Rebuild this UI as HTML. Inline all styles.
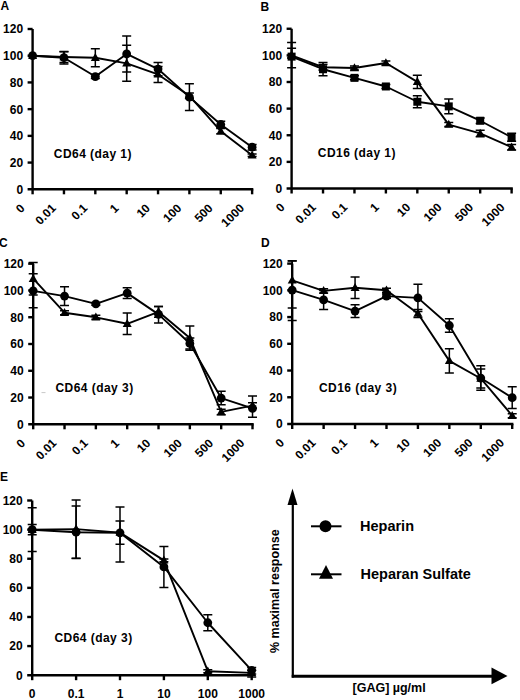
<!DOCTYPE html>
<html><head><meta charset="utf-8"><style>
html,body{margin:0;padding:0;background:#fff;}
svg{display:block;}
text{font-family:"Liberation Sans", sans-serif;fill:#000;}
</style></head><body>
<svg width="520" height="700" viewBox="0 0 520 700">
<rect width="520" height="700" fill="#fff"/>
<path d="M32.6 29V194.3" stroke="#000" stroke-width="2.4" fill="none"/>
<path d="M27.6 189.3H253.32" stroke="#000" stroke-width="2.4" fill="none"/>
<path d="M27.6 162.58H32.6" stroke="#000" stroke-width="2.4"/>
<text x="23.1" y="166.98" text-anchor="end" font-size="12" font-weight="bold">20</text>
<path d="M27.6 135.87H32.6" stroke="#000" stroke-width="2.4"/>
<text x="23.1" y="140.27" text-anchor="end" font-size="12" font-weight="bold">40</text>
<path d="M27.6 109.15H32.6" stroke="#000" stroke-width="2.4"/>
<text x="23.1" y="113.55" text-anchor="end" font-size="12" font-weight="bold">60</text>
<path d="M27.6 82.43H32.6" stroke="#000" stroke-width="2.4"/>
<text x="23.1" y="86.83" text-anchor="end" font-size="12" font-weight="bold">80</text>
<path d="M27.6 55.72H32.6" stroke="#000" stroke-width="2.4"/>
<text x="23.1" y="60.12" text-anchor="end" font-size="12" font-weight="bold">100</text>
<path d="M27.6 29H32.6" stroke="#000" stroke-width="2.4"/>
<text x="23.1" y="33.4" text-anchor="end" font-size="12" font-weight="bold">120</text>
<text x="23.1" y="193.7" text-anchor="end" font-size="12" font-weight="bold">0</text>
<path d="M63.96 189.3V194.3" stroke="#000" stroke-width="2.4"/>
<path d="M95.32 189.3V194.3" stroke="#000" stroke-width="2.4"/>
<path d="M126.68 189.3V194.3" stroke="#000" stroke-width="2.4"/>
<path d="M158.04 189.3V194.3" stroke="#000" stroke-width="2.4"/>
<path d="M189.4 189.3V194.3" stroke="#000" stroke-width="2.4"/>
<path d="M220.76 189.3V194.3" stroke="#000" stroke-width="2.4"/>
<path d="M252.12 189.3V194.3" stroke="#000" stroke-width="2.4"/>
<text transform="translate(25.4 208.9) rotate(-45)" text-anchor="end" font-size="12" font-weight="bold">0</text>
<text transform="translate(56.76 208.9) rotate(-45)" text-anchor="end" font-size="12" font-weight="bold">0.01</text>
<text transform="translate(88.12 208.9) rotate(-45)" text-anchor="end" font-size="12" font-weight="bold">0.1</text>
<text transform="translate(119.48 208.9) rotate(-45)" text-anchor="end" font-size="12" font-weight="bold">1</text>
<text transform="translate(150.84 208.9) rotate(-45)" text-anchor="end" font-size="12" font-weight="bold">10</text>
<text transform="translate(182.2 208.9) rotate(-45)" text-anchor="end" font-size="12" font-weight="bold">100</text>
<text transform="translate(213.56 208.9) rotate(-45)" text-anchor="end" font-size="12" font-weight="bold">500</text>
<text transform="translate(244.92 208.9) rotate(-45)" text-anchor="end" font-size="12" font-weight="bold">1000</text>
<text x="53.8" y="158.2" font-size="12" font-weight="bold" letter-spacing="0.45">CD64 (day 1)</text>
<text x="0.6" y="10" font-size="12" font-weight="bold">A</text>
<polyline points="32.6,55.72 63.96,57.72 95.32,76.56 126.68,53.98 158.04,69.08 189.4,97.13 220.76,124.51 252.12,147.22" fill="none" stroke="#000" stroke-width="1.9" stroke-linejoin="round"/>
<path d="M63.96 51.44V64M59.46 51.44h9M59.46 64h9" stroke="#000" stroke-width="1.5" fill="none"/>
<path d="M95.32 74.55V78.56M90.82 74.55h9M90.82 78.56h9" stroke="#000" stroke-width="1.5" fill="none"/>
<path d="M126.68 35.95V72.01M122.18 35.95h9M122.18 72.01h9" stroke="#000" stroke-width="1.5" fill="none"/>
<path d="M158.04 62.4V75.75M153.54 62.4h9M153.54 75.75h9" stroke="#000" stroke-width="1.5" fill="none"/>
<path d="M189.4 83.77V110.49M184.9 83.77h9M184.9 110.49h9" stroke="#000" stroke-width="1.5" fill="none"/>
<path d="M220.76 121.17V127.85M216.26 121.17h9M216.26 127.85h9" stroke="#000" stroke-width="1.5" fill="none"/>
<path d="M252.12 144.55V149.89M247.62 144.55h9M247.62 149.89h9" stroke="#000" stroke-width="1.5" fill="none"/>
<circle cx="32.6" cy="55.72" r="4.4"/>
<circle cx="63.96" cy="57.72" r="4.4"/>
<circle cx="95.32" cy="76.56" r="4.4"/>
<circle cx="126.68" cy="53.98" r="4.4"/>
<circle cx="158.04" cy="69.08" r="4.4"/>
<circle cx="189.4" cy="97.13" r="4.4"/>
<circle cx="220.76" cy="124.51" r="4.4"/>
<circle cx="252.12" cy="147.22" r="4.4"/>
<polyline points="32.6,55.72 63.96,57.05 95.32,57.72 126.68,63.33 158.04,74.42 189.4,95.79 220.76,131.19 252.12,155.24" fill="none" stroke="#000" stroke-width="1.9" stroke-linejoin="round"/>
<path d="M63.96 51.71V62.4M59.46 51.71h9M59.46 62.4h9" stroke="#000" stroke-width="1.5" fill="none"/>
<path d="M95.32 48.77V66.67M90.82 48.77h9M90.82 66.67h9" stroke="#000" stroke-width="1.5" fill="none"/>
<path d="M126.68 45.3V81.36M122.18 45.3h9M122.18 81.36h9" stroke="#000" stroke-width="1.5" fill="none"/>
<path d="M158.04 66.4V82.43M153.54 66.4h9M153.54 82.43h9" stroke="#000" stroke-width="1.5" fill="none"/>
<path d="M189.4 93.12V98.46M184.9 93.12h9M184.9 98.46h9" stroke="#000" stroke-width="1.5" fill="none"/>
<path d="M220.76 128.52V133.86M216.26 128.52h9M216.26 133.86h9" stroke="#000" stroke-width="1.5" fill="none"/>
<path d="M252.12 153.9V156.57M247.62 153.9h9M247.62 156.57h9" stroke="#000" stroke-width="1.5" fill="none"/>
<path d="M32.6 50.92l4.5 8h-9z"/>
<path d="M63.96 52.25l4.5 8h-9z"/>
<path d="M95.32 52.92l4.5 8h-9z"/>
<path d="M126.68 58.53l4.5 8h-9z"/>
<path d="M158.04 69.62l4.5 8h-9z"/>
<path d="M189.4 90.99l4.5 8h-9z"/>
<path d="M220.76 126.39l4.5 8h-9z"/>
<path d="M252.12 150.44l4.5 8h-9z"/>
<path d="M291.6 28.75V193.5" stroke="#000" stroke-width="2.4" fill="none"/>
<path d="M286.6 188.5H512.81" stroke="#000" stroke-width="2.4" fill="none"/>
<path d="M286.6 161.88H291.6" stroke="#000" stroke-width="2.4"/>
<text x="282.1" y="166.28" text-anchor="end" font-size="12" font-weight="bold">20</text>
<path d="M286.6 135.25H291.6" stroke="#000" stroke-width="2.4"/>
<text x="282.1" y="139.65" text-anchor="end" font-size="12" font-weight="bold">40</text>
<path d="M286.6 108.62H291.6" stroke="#000" stroke-width="2.4"/>
<text x="282.1" y="113.03" text-anchor="end" font-size="12" font-weight="bold">60</text>
<path d="M286.6 82H291.6" stroke="#000" stroke-width="2.4"/>
<text x="282.1" y="86.4" text-anchor="end" font-size="12" font-weight="bold">80</text>
<path d="M286.6 55.38H291.6" stroke="#000" stroke-width="2.4"/>
<text x="282.1" y="59.77" text-anchor="end" font-size="12" font-weight="bold">100</text>
<path d="M286.6 28.75H291.6" stroke="#000" stroke-width="2.4"/>
<text x="282.1" y="33.15" text-anchor="end" font-size="12" font-weight="bold">120</text>
<text x="282.1" y="192.9" text-anchor="end" font-size="12" font-weight="bold">0</text>
<path d="M323.03 188.5V193.5" stroke="#000" stroke-width="2.4"/>
<path d="M354.46 188.5V193.5" stroke="#000" stroke-width="2.4"/>
<path d="M385.89 188.5V193.5" stroke="#000" stroke-width="2.4"/>
<path d="M417.32 188.5V193.5" stroke="#000" stroke-width="2.4"/>
<path d="M448.75 188.5V193.5" stroke="#000" stroke-width="2.4"/>
<path d="M480.18 188.5V193.5" stroke="#000" stroke-width="2.4"/>
<path d="M511.61 188.5V193.5" stroke="#000" stroke-width="2.4"/>
<text transform="translate(285.4 208.1) rotate(-45)" text-anchor="end" font-size="12" font-weight="bold">0</text>
<text transform="translate(316.83 208.1) rotate(-45)" text-anchor="end" font-size="12" font-weight="bold">0.01</text>
<text transform="translate(348.26 208.1) rotate(-45)" text-anchor="end" font-size="12" font-weight="bold">0.1</text>
<text transform="translate(379.69 208.1) rotate(-45)" text-anchor="end" font-size="12" font-weight="bold">1</text>
<text transform="translate(411.12 208.1) rotate(-45)" text-anchor="end" font-size="12" font-weight="bold">10</text>
<text transform="translate(442.55 208.1) rotate(-45)" text-anchor="end" font-size="12" font-weight="bold">100</text>
<text transform="translate(473.98 208.1) rotate(-45)" text-anchor="end" font-size="12" font-weight="bold">500</text>
<text transform="translate(505.41 208.1) rotate(-45)" text-anchor="end" font-size="12" font-weight="bold">1000</text>
<text x="317.8" y="157.2" font-size="12" font-weight="bold" letter-spacing="0.45">CD16 (day 1)</text>
<text x="260.5" y="10.6" font-size="12" font-weight="bold">B</text>
<polyline points="291.6,56.63 323.03,69.23 354.46,77.86 385.89,86.48 417.32,101.75 448.75,106.39 480.18,120.72 511.61,137.31" fill="none" stroke="#000" stroke-width="1.9" stroke-linejoin="round"/>
<path d="M291.6 48.27V67.64M287.1 48.27h9M287.1 67.64h9" stroke="#000" stroke-width="1.5" fill="none"/>
<path d="M323.03 62.6V75.87M318.53 62.6h9M318.53 75.87h9" stroke="#000" stroke-width="1.5" fill="none"/>
<path d="M354.46 75.87V79.85M349.96 75.87h9M349.96 79.85h9" stroke="#000" stroke-width="1.5" fill="none"/>
<path d="M385.89 84.49V88.48M381.39 84.49h9M381.39 88.48h9" stroke="#000" stroke-width="1.5" fill="none"/>
<path d="M417.32 95.77V107.72M412.82 95.77h9M412.82 107.72h9" stroke="#000" stroke-width="1.5" fill="none"/>
<path d="M448.75 99.09V113.69M444.25 99.09h9M444.25 113.69h9" stroke="#000" stroke-width="1.5" fill="none"/>
<path d="M480.18 118.07V123.38M475.68 118.07h9M475.68 123.38h9" stroke="#000" stroke-width="1.5" fill="none"/>
<path d="M511.61 133.33V141.29M507.11 133.33h9M507.11 141.29h9" stroke="#000" stroke-width="1.5" fill="none"/>
<rect x="287.6" y="52.63" width="8" height="8"/>
<rect x="319.03" y="65.23" width="8" height="8"/>
<rect x="350.46" y="73.86" width="8" height="8"/>
<rect x="381.89" y="82.48" width="8" height="8"/>
<rect x="413.32" y="97.75" width="8" height="8"/>
<rect x="444.75" y="102.39" width="8" height="8"/>
<rect x="476.18" y="116.72" width="8" height="8"/>
<rect x="507.61" y="133.31" width="8" height="8"/>
<polyline points="291.6,55.3 323.03,67.24 354.46,68.04 385.89,63 417.32,81.84 448.75,124.57 480.18,133.46 511.61,147.26" fill="none" stroke="#000" stroke-width="1.9" stroke-linejoin="round"/>
<path d="M291.6 42.56V57.95M287.1 42.56h9M287.1 57.95h9" stroke="#000" stroke-width="1.5" fill="none"/>
<path d="M323.03 64.59V69.9M318.53 64.59h9M318.53 69.9h9" stroke="#000" stroke-width="1.5" fill="none"/>
<path d="M354.46 66.05V70.03M349.96 66.05h9M349.96 70.03h9" stroke="#000" stroke-width="1.5" fill="none"/>
<path d="M385.89 61.01V64.99M381.39 61.01h9M381.39 64.99h9" stroke="#000" stroke-width="1.5" fill="none"/>
<path d="M417.32 75.2V88.48M412.82 75.2h9M412.82 88.48h9" stroke="#000" stroke-width="1.5" fill="none"/>
<path d="M448.75 122.58V126.56M444.25 122.58h9M444.25 126.56h9" stroke="#000" stroke-width="1.5" fill="none"/>
<path d="M480.18 130.14V136.78M475.68 130.14h9M475.68 136.78h9" stroke="#000" stroke-width="1.5" fill="none"/>
<path d="M511.61 144.61V149.92M507.11 144.61h9M507.11 149.92h9" stroke="#000" stroke-width="1.5" fill="none"/>
<path d="M291.6 50.5l4.5 8h-9z"/>
<path d="M323.03 62.44l4.5 8h-9z"/>
<path d="M354.46 63.24l4.5 8h-9z"/>
<path d="M385.89 58.2l4.5 8h-9z"/>
<path d="M417.32 77.04l4.5 8h-9z"/>
<path d="M448.75 119.77l4.5 8h-9z"/>
<path d="M480.18 128.66l4.5 8h-9z"/>
<path d="M511.61 142.46l4.5 8h-9z"/>
<path d="M33.2 263.7V429.3" stroke="#000" stroke-width="2.4" fill="none"/>
<path d="M28.2 424.3H253.71" stroke="#000" stroke-width="2.4" fill="none"/>
<path d="M28.2 397.53H33.2" stroke="#000" stroke-width="2.4"/>
<text x="23.7" y="401.93" text-anchor="end" font-size="12" font-weight="bold">20</text>
<path d="M28.2 370.77H33.2" stroke="#000" stroke-width="2.4"/>
<text x="23.7" y="375.17" text-anchor="end" font-size="12" font-weight="bold">40</text>
<path d="M28.2 344H33.2" stroke="#000" stroke-width="2.4"/>
<text x="23.7" y="348.4" text-anchor="end" font-size="12" font-weight="bold">60</text>
<path d="M28.2 317.23H33.2" stroke="#000" stroke-width="2.4"/>
<text x="23.7" y="321.63" text-anchor="end" font-size="12" font-weight="bold">80</text>
<path d="M28.2 290.47H33.2" stroke="#000" stroke-width="2.4"/>
<text x="23.7" y="294.87" text-anchor="end" font-size="12" font-weight="bold">100</text>
<path d="M28.2 263.7H33.2" stroke="#000" stroke-width="2.4"/>
<text x="23.7" y="268.1" text-anchor="end" font-size="12" font-weight="bold">120</text>
<text x="23.7" y="428.7" text-anchor="end" font-size="12" font-weight="bold">0</text>
<path d="M64.53 424.3V429.3" stroke="#000" stroke-width="2.4"/>
<path d="M95.86 424.3V429.3" stroke="#000" stroke-width="2.4"/>
<path d="M127.19 424.3V429.3" stroke="#000" stroke-width="2.4"/>
<path d="M158.52 424.3V429.3" stroke="#000" stroke-width="2.4"/>
<path d="M189.85 424.3V429.3" stroke="#000" stroke-width="2.4"/>
<path d="M221.18 424.3V429.3" stroke="#000" stroke-width="2.4"/>
<path d="M252.51 424.3V429.3" stroke="#000" stroke-width="2.4"/>
<text transform="translate(26 443.9) rotate(-45)" text-anchor="end" font-size="12" font-weight="bold">0</text>
<text transform="translate(57.33 443.9) rotate(-45)" text-anchor="end" font-size="12" font-weight="bold">0.01</text>
<text transform="translate(88.66 443.9) rotate(-45)" text-anchor="end" font-size="12" font-weight="bold">0.1</text>
<text transform="translate(119.99 443.9) rotate(-45)" text-anchor="end" font-size="12" font-weight="bold">1</text>
<text transform="translate(151.32 443.9) rotate(-45)" text-anchor="end" font-size="12" font-weight="bold">10</text>
<text transform="translate(182.65 443.9) rotate(-45)" text-anchor="end" font-size="12" font-weight="bold">100</text>
<text transform="translate(213.98 443.9) rotate(-45)" text-anchor="end" font-size="12" font-weight="bold">500</text>
<text transform="translate(245.31 443.9) rotate(-45)" text-anchor="end" font-size="12" font-weight="bold">1000</text>
<text x="55.5" y="392.4" font-size="12" font-weight="bold" letter-spacing="0.45">CD64 (day 3)</text>
<text x="-0.9" y="247.3" font-size="12" font-weight="bold">C</text>
<polyline points="33.2,290.85 64.53,296.12 95.86,303.94 127.19,293.14 158.52,314.34 189.85,343.5 221.18,398.04 252.51,408.44" fill="none" stroke="#000" stroke-width="1.9" stroke-linejoin="round"/>
<path d="M33.2 273.84V307.86M28.7 273.84h9M28.7 307.86h9" stroke="#000" stroke-width="1.5" fill="none"/>
<path d="M64.53 286.66V305.56M60.03 286.66h9M60.03 305.56h9" stroke="#000" stroke-width="1.5" fill="none"/>
<path d="M95.86 302.6V305.3M91.36 302.6h9M91.36 305.3h9" stroke="#000" stroke-width="1.5" fill="none"/>
<path d="M127.19 287.75V298.55M122.69 287.75h9M122.69 298.55h9" stroke="#000" stroke-width="1.5" fill="none"/>
<path d="M158.52 306.51V323.12M154.02 306.51h9M154.02 323.12h9" stroke="#000" stroke-width="1.5" fill="none"/>
<path d="M189.85 338.1V348.9M185.35 338.1h9M185.35 348.9h9" stroke="#000" stroke-width="1.5" fill="none"/>
<path d="M221.18 391.29V404.79M216.68 391.29h9M216.68 404.79h9" stroke="#000" stroke-width="1.5" fill="none"/>
<path d="M252.51 395.88V417.35M248.01 395.88h9M248.01 417.35h9" stroke="#000" stroke-width="1.5" fill="none"/>
<circle cx="33.2" cy="290.85" r="4.4"/>
<circle cx="64.53" cy="296.12" r="4.4"/>
<circle cx="95.86" cy="303.94" r="4.4"/>
<circle cx="127.19" cy="293.14" r="4.4"/>
<circle cx="158.52" cy="314.34" r="4.4"/>
<circle cx="189.85" cy="343.5" r="4.4"/>
<circle cx="221.18" cy="398.04" r="4.4"/>
<circle cx="252.51" cy="408.44" r="4.4"/>
<polyline points="33.2,278.7 64.53,312.72 95.86,317.31 127.19,323.79 158.52,311.77 189.85,338.1 221.18,411.94 252.51,405.6" fill="none" stroke="#000" stroke-width="1.9" stroke-linejoin="round"/>
<path d="M33.2 262.5V294.9M28.7 262.5h9M28.7 294.9h9" stroke="#000" stroke-width="1.5" fill="none"/>
<path d="M64.53 310.69V314.75M60.03 310.69h9M60.03 314.75h9" stroke="#000" stroke-width="1.5" fill="none"/>
<path d="M95.86 315.28V319.33M91.36 315.28h9M91.36 319.33h9" stroke="#000" stroke-width="1.5" fill="none"/>
<path d="M127.19 312.99V334.59M122.69 312.99h9M122.69 334.59h9" stroke="#000" stroke-width="1.5" fill="none"/>
<path d="M158.52 306.38V317.18M154.02 306.38h9M154.02 317.18h9" stroke="#000" stroke-width="1.5" fill="none"/>
<path d="M189.85 325.95V350.25M185.35 325.95h9M185.35 350.25h9" stroke="#000" stroke-width="1.5" fill="none"/>
<path d="M221.18 409.25V414.64M216.68 409.25h9M216.68 414.64h9" stroke="#000" stroke-width="1.5" fill="none"/>
<path d="M252.51 402.76V408.3M248.01 402.76h9M248.01 408.3h9" stroke="#000" stroke-width="1.5" fill="none"/>
<path d="M33.2 273.9l4.5 8h-9z"/>
<path d="M64.53 307.92l4.5 8h-9z"/>
<path d="M95.86 312.51l4.5 8h-9z"/>
<path d="M127.19 318.99l4.5 8h-9z"/>
<path d="M158.52 306.97l4.5 8h-9z"/>
<path d="M189.85 333.3l4.5 8h-9z"/>
<path d="M221.18 407.14l4.5 8h-9z"/>
<path d="M252.51 400.8l4.5 8h-9z"/>
<path d="M292.2 263.6V429" stroke="#000" stroke-width="2.4" fill="none"/>
<path d="M287.2 424H513.41" stroke="#000" stroke-width="2.4" fill="none"/>
<path d="M287.2 397.27H292.2" stroke="#000" stroke-width="2.4"/>
<text x="282.7" y="401.67" text-anchor="end" font-size="12" font-weight="bold">20</text>
<path d="M287.2 370.53H292.2" stroke="#000" stroke-width="2.4"/>
<text x="282.7" y="374.93" text-anchor="end" font-size="12" font-weight="bold">40</text>
<path d="M287.2 343.8H292.2" stroke="#000" stroke-width="2.4"/>
<text x="282.7" y="348.2" text-anchor="end" font-size="12" font-weight="bold">60</text>
<path d="M287.2 317.07H292.2" stroke="#000" stroke-width="2.4"/>
<text x="282.7" y="321.47" text-anchor="end" font-size="12" font-weight="bold">80</text>
<path d="M287.2 290.33H292.2" stroke="#000" stroke-width="2.4"/>
<text x="282.7" y="294.73" text-anchor="end" font-size="12" font-weight="bold">100</text>
<path d="M287.2 263.6H292.2" stroke="#000" stroke-width="2.4"/>
<text x="282.7" y="268" text-anchor="end" font-size="12" font-weight="bold">120</text>
<text x="282.7" y="428.4" text-anchor="end" font-size="12" font-weight="bold">0</text>
<path d="M323.63 424V429" stroke="#000" stroke-width="2.4"/>
<path d="M355.06 424V429" stroke="#000" stroke-width="2.4"/>
<path d="M386.49 424V429" stroke="#000" stroke-width="2.4"/>
<path d="M417.92 424V429" stroke="#000" stroke-width="2.4"/>
<path d="M449.35 424V429" stroke="#000" stroke-width="2.4"/>
<path d="M480.78 424V429" stroke="#000" stroke-width="2.4"/>
<path d="M512.21 424V429" stroke="#000" stroke-width="2.4"/>
<text transform="translate(285 443.6) rotate(-45)" text-anchor="end" font-size="12" font-weight="bold">0</text>
<text transform="translate(316.43 443.6) rotate(-45)" text-anchor="end" font-size="12" font-weight="bold">0.01</text>
<text transform="translate(347.86 443.6) rotate(-45)" text-anchor="end" font-size="12" font-weight="bold">0.1</text>
<text transform="translate(379.29 443.6) rotate(-45)" text-anchor="end" font-size="12" font-weight="bold">1</text>
<text transform="translate(410.72 443.6) rotate(-45)" text-anchor="end" font-size="12" font-weight="bold">10</text>
<text transform="translate(442.15 443.6) rotate(-45)" text-anchor="end" font-size="12" font-weight="bold">100</text>
<text transform="translate(473.58 443.6) rotate(-45)" text-anchor="end" font-size="12" font-weight="bold">500</text>
<text transform="translate(505.01 443.6) rotate(-45)" text-anchor="end" font-size="12" font-weight="bold">1000</text>
<text x="319" y="392.4" font-size="12" font-weight="bold" letter-spacing="0.45">CD16 (day 3)</text>
<text x="260.9" y="246.9" font-size="12" font-weight="bold">D</text>
<polyline points="292.2,290.05 323.63,299.93 355.06,311.03 386.49,296.14 417.92,297.9 449.35,325.52 480.78,378.06 512.21,397.69" fill="none" stroke="#000" stroke-width="1.9" stroke-linejoin="round"/>
<path d="M292.2 260.94V320.51M287.7 260.94h9M287.7 320.51h9" stroke="#000" stroke-width="1.5" fill="none"/>
<path d="M323.63 290.45V309.41M319.13 290.45h9M319.13 309.41h9" stroke="#000" stroke-width="1.5" fill="none"/>
<path d="M355.06 304.67V317.4M350.56 304.67h9M350.56 317.4h9" stroke="#000" stroke-width="1.5" fill="none"/>
<path d="M386.49 294.11V298.17M381.99 294.11h9M381.99 298.17h9" stroke="#000" stroke-width="1.5" fill="none"/>
<path d="M417.92 284.36V311.44M413.42 284.36h9M413.42 311.44h9" stroke="#000" stroke-width="1.5" fill="none"/>
<path d="M449.35 318.75V332.29M444.85 318.75h9M444.85 332.29h9" stroke="#000" stroke-width="1.5" fill="none"/>
<path d="M480.78 365.87V390.24M476.28 365.87h9M476.28 390.24h9" stroke="#000" stroke-width="1.5" fill="none"/>
<path d="M512.21 386.86V408.52M507.71 386.86h9M507.71 408.52h9" stroke="#000" stroke-width="1.5" fill="none"/>
<circle cx="292.2" cy="290.05" r="4.4"/>
<circle cx="323.63" cy="299.93" r="4.4"/>
<circle cx="355.06" cy="311.03" r="4.4"/>
<circle cx="386.49" cy="296.14" r="4.4"/>
<circle cx="417.92" cy="297.9" r="4.4"/>
<circle cx="449.35" cy="325.52" r="4.4"/>
<circle cx="480.78" cy="378.06" r="4.4"/>
<circle cx="512.21" cy="397.69" r="4.4"/>
<polyline points="292.2,280.3 323.63,290.86 355.06,287.75 386.49,290.32 417.92,313.47 449.35,360.86 480.78,378.46 512.21,415.7" fill="none" stroke="#000" stroke-width="1.9" stroke-linejoin="round"/>
<path d="M292.2 260.67V308.06M287.7 260.67h9M287.7 308.06h9" stroke="#000" stroke-width="1.5" fill="none"/>
<path d="M323.63 288.83V292.89M319.13 288.83h9M319.13 292.89h9" stroke="#000" stroke-width="1.5" fill="none"/>
<path d="M355.06 276.91V298.58M350.56 276.91h9M350.56 298.58h9" stroke="#000" stroke-width="1.5" fill="none"/>
<path d="M386.49 288.29V292.35M381.99 288.29h9M381.99 292.35h9" stroke="#000" stroke-width="1.5" fill="none"/>
<path d="M417.92 309.41V317.53M413.42 309.41h9M413.42 317.53h9" stroke="#000" stroke-width="1.5" fill="none"/>
<path d="M449.35 348.68V373.05M444.85 348.68h9M444.85 373.05h9" stroke="#000" stroke-width="1.5" fill="none"/>
<path d="M480.78 368.99V387.94M476.28 368.99h9M476.28 387.94h9" stroke="#000" stroke-width="1.5" fill="none"/>
<path d="M512.21 413.67V417.73M507.71 413.67h9M507.71 417.73h9" stroke="#000" stroke-width="1.5" fill="none"/>
<path d="M292.2 275.5l4.5 8h-9z"/>
<path d="M323.63 286.06l4.5 8h-9z"/>
<path d="M355.06 282.95l4.5 8h-9z"/>
<path d="M386.49 285.52l4.5 8h-9z"/>
<path d="M417.92 308.67l4.5 8h-9z"/>
<path d="M449.35 356.06l4.5 8h-9z"/>
<path d="M480.78 373.66l4.5 8h-9z"/>
<path d="M512.21 410.9l4.5 8h-9z"/>
<path d="M32.2 500.5V680.2" stroke="#000" stroke-width="2.4" fill="none"/>
<path d="M27.2 675.2H252.9" stroke="#000" stroke-width="2.4" fill="none"/>
<path d="M27.2 646.08H32.2" stroke="#000" stroke-width="2.4"/>
<text x="22.7" y="650.48" text-anchor="end" font-size="12" font-weight="bold">20</text>
<path d="M27.2 616.97H32.2" stroke="#000" stroke-width="2.4"/>
<text x="22.7" y="621.37" text-anchor="end" font-size="12" font-weight="bold">40</text>
<path d="M27.2 587.85H32.2" stroke="#000" stroke-width="2.4"/>
<text x="22.7" y="592.25" text-anchor="end" font-size="12" font-weight="bold">60</text>
<path d="M27.2 558.73H32.2" stroke="#000" stroke-width="2.4"/>
<text x="22.7" y="563.13" text-anchor="end" font-size="12" font-weight="bold">80</text>
<path d="M27.2 529.62H32.2" stroke="#000" stroke-width="2.4"/>
<text x="22.7" y="534.02" text-anchor="end" font-size="12" font-weight="bold">100</text>
<path d="M27.2 500.5H32.2" stroke="#000" stroke-width="2.4"/>
<text x="22.7" y="504.9" text-anchor="end" font-size="12" font-weight="bold">120</text>
<text x="22.7" y="679.6" text-anchor="end" font-size="12" font-weight="bold">0</text>
<path d="M76.1 675.2V680.2" stroke="#000" stroke-width="2.4"/>
<path d="M120 675.2V680.2" stroke="#000" stroke-width="2.4"/>
<path d="M163.9 675.2V680.2" stroke="#000" stroke-width="2.4"/>
<path d="M207.8 675.2V680.2" stroke="#000" stroke-width="2.4"/>
<path d="M251.7 675.2V680.2" stroke="#000" stroke-width="2.4"/>
<text x="32.2" y="698" text-anchor="middle" font-size="12" font-weight="bold">0</text>
<text x="76.1" y="698" text-anchor="middle" font-size="12" font-weight="bold">0.1</text>
<text x="120" y="698" text-anchor="middle" font-size="12" font-weight="bold">1</text>
<text x="163.9" y="698" text-anchor="middle" font-size="12" font-weight="bold">10</text>
<text x="207.8" y="698" text-anchor="middle" font-size="12" font-weight="bold">100</text>
<text x="251.7" y="698" text-anchor="middle" font-size="12" font-weight="bold">1000</text>
<text x="54.5" y="642" font-size="12" font-weight="bold" letter-spacing="0.45">CD64 (day 3)</text>
<text x="0.1" y="480.6" font-size="12" font-weight="bold">E</text>
<polyline points="32.2,529.71 76.1,532.19 120,532.78 163.9,566.95 207.8,622.74 251.7,670.35" fill="none" stroke="#000" stroke-width="1.9" stroke-linejoin="round"/>
<path d="M32.2 507.8V551.62M27.7 507.8h9M27.7 551.62h9" stroke="#000" stroke-width="1.5" fill="none"/>
<path d="M76.1 505.91V558.48M71.6 505.91h9M71.6 558.48h9" stroke="#000" stroke-width="1.5" fill="none"/>
<path d="M120 507.07V561.98M115.5 507.07h9M115.5 561.98h9" stroke="#000" stroke-width="1.5" fill="none"/>
<path d="M163.9 546.5V587.4M159.4 546.5h9M159.4 587.4h9" stroke="#000" stroke-width="1.5" fill="none"/>
<path d="M207.8 614.71V630.77M203.3 614.71h9M203.3 630.77h9" stroke="#000" stroke-width="1.5" fill="none"/>
<path d="M251.7 667.57V674M247.2 667.57h9M247.2 674h9" stroke="#000" stroke-width="1.5" fill="none"/>
<circle cx="32.2" cy="529.71" r="4.4"/>
<circle cx="76.1" cy="532.19" r="4.4"/>
<circle cx="120" cy="532.78" r="4.4"/>
<circle cx="163.9" cy="566.95" r="4.4"/>
<circle cx="207.8" cy="622.74" r="4.4"/>
<circle cx="251.7" cy="670.35" r="4.4"/>
<polyline points="32.2,529.71 76.1,529.13 120,532.63 163.9,560.38 207.8,671.22 251.7,672.83" fill="none" stroke="#000" stroke-width="1.9" stroke-linejoin="round"/>
<path d="M32.2 524.6V534.82M27.7 524.6h9M27.7 534.82h9" stroke="#000" stroke-width="1.5" fill="none"/>
<path d="M76.1 499.92V558.33M71.6 499.92h9M71.6 558.33h9" stroke="#000" stroke-width="1.5" fill="none"/>
<path d="M120 520.95V544.31M115.5 520.95h9M115.5 544.31h9" stroke="#000" stroke-width="1.5" fill="none"/>
<path d="M163.9 558.92V561.84M159.4 558.92h9M159.4 561.84h9" stroke="#000" stroke-width="1.5" fill="none"/>
<path d="M207.8 669.76V672.68M203.3 669.76h9M203.3 672.68h9" stroke="#000" stroke-width="1.5" fill="none"/>
<path d="M251.7 670.2V677.06M247.2 670.2h9M247.2 677.06h9" stroke="#000" stroke-width="1.5" fill="none"/>
<path d="M32.2 524.91l4.5 8h-9z"/>
<path d="M76.1 524.33l4.5 8h-9z"/>
<path d="M120 527.83l4.5 8h-9z"/>
<path d="M163.9 555.58l4.5 8h-9z"/>
<path d="M207.8 666.42l4.5 8h-9z"/>
<path d="M251.7 668.03l4.5 8h-9z"/>
<path d="M292.8 677.6V503" stroke="#000" stroke-width="2.2" fill="none"/>
<path d="M292.5 488.5L287.5 505H297.5Z"/>
<path d="M291.7 676.2H493" stroke="#000" stroke-width="3" fill="none"/>
<path d="M507.5 676L491.5 667.6V684.3Z"/>
<path d="M311 526.3H341.5" stroke="#000" stroke-width="2" fill="none"/>
<circle cx="325.5" cy="526.3" r="6"/>
<path d="M311 574.3H341.5" stroke="#000" stroke-width="2" fill="none"/>
<path d="M326 565L333 578.8H319Z"/>
<text x="360" y="531" font-size="14.5" font-weight="bold">Heparin</text>
<text x="360.5" y="579" font-size="14.5" font-weight="bold">Heparan Sulfate</text>
<text transform="translate(278.5 653) rotate(-90)" font-size="12.5" font-weight="bold">% maximal response</text>
<text x="352.5" y="692" font-size="12.5" font-weight="bold">[GAG] µg/ml</text>
<path d="M41.5 392.6H45.5" stroke="#c8c8c8" stroke-width="1"/>
</svg>
</body></html>
